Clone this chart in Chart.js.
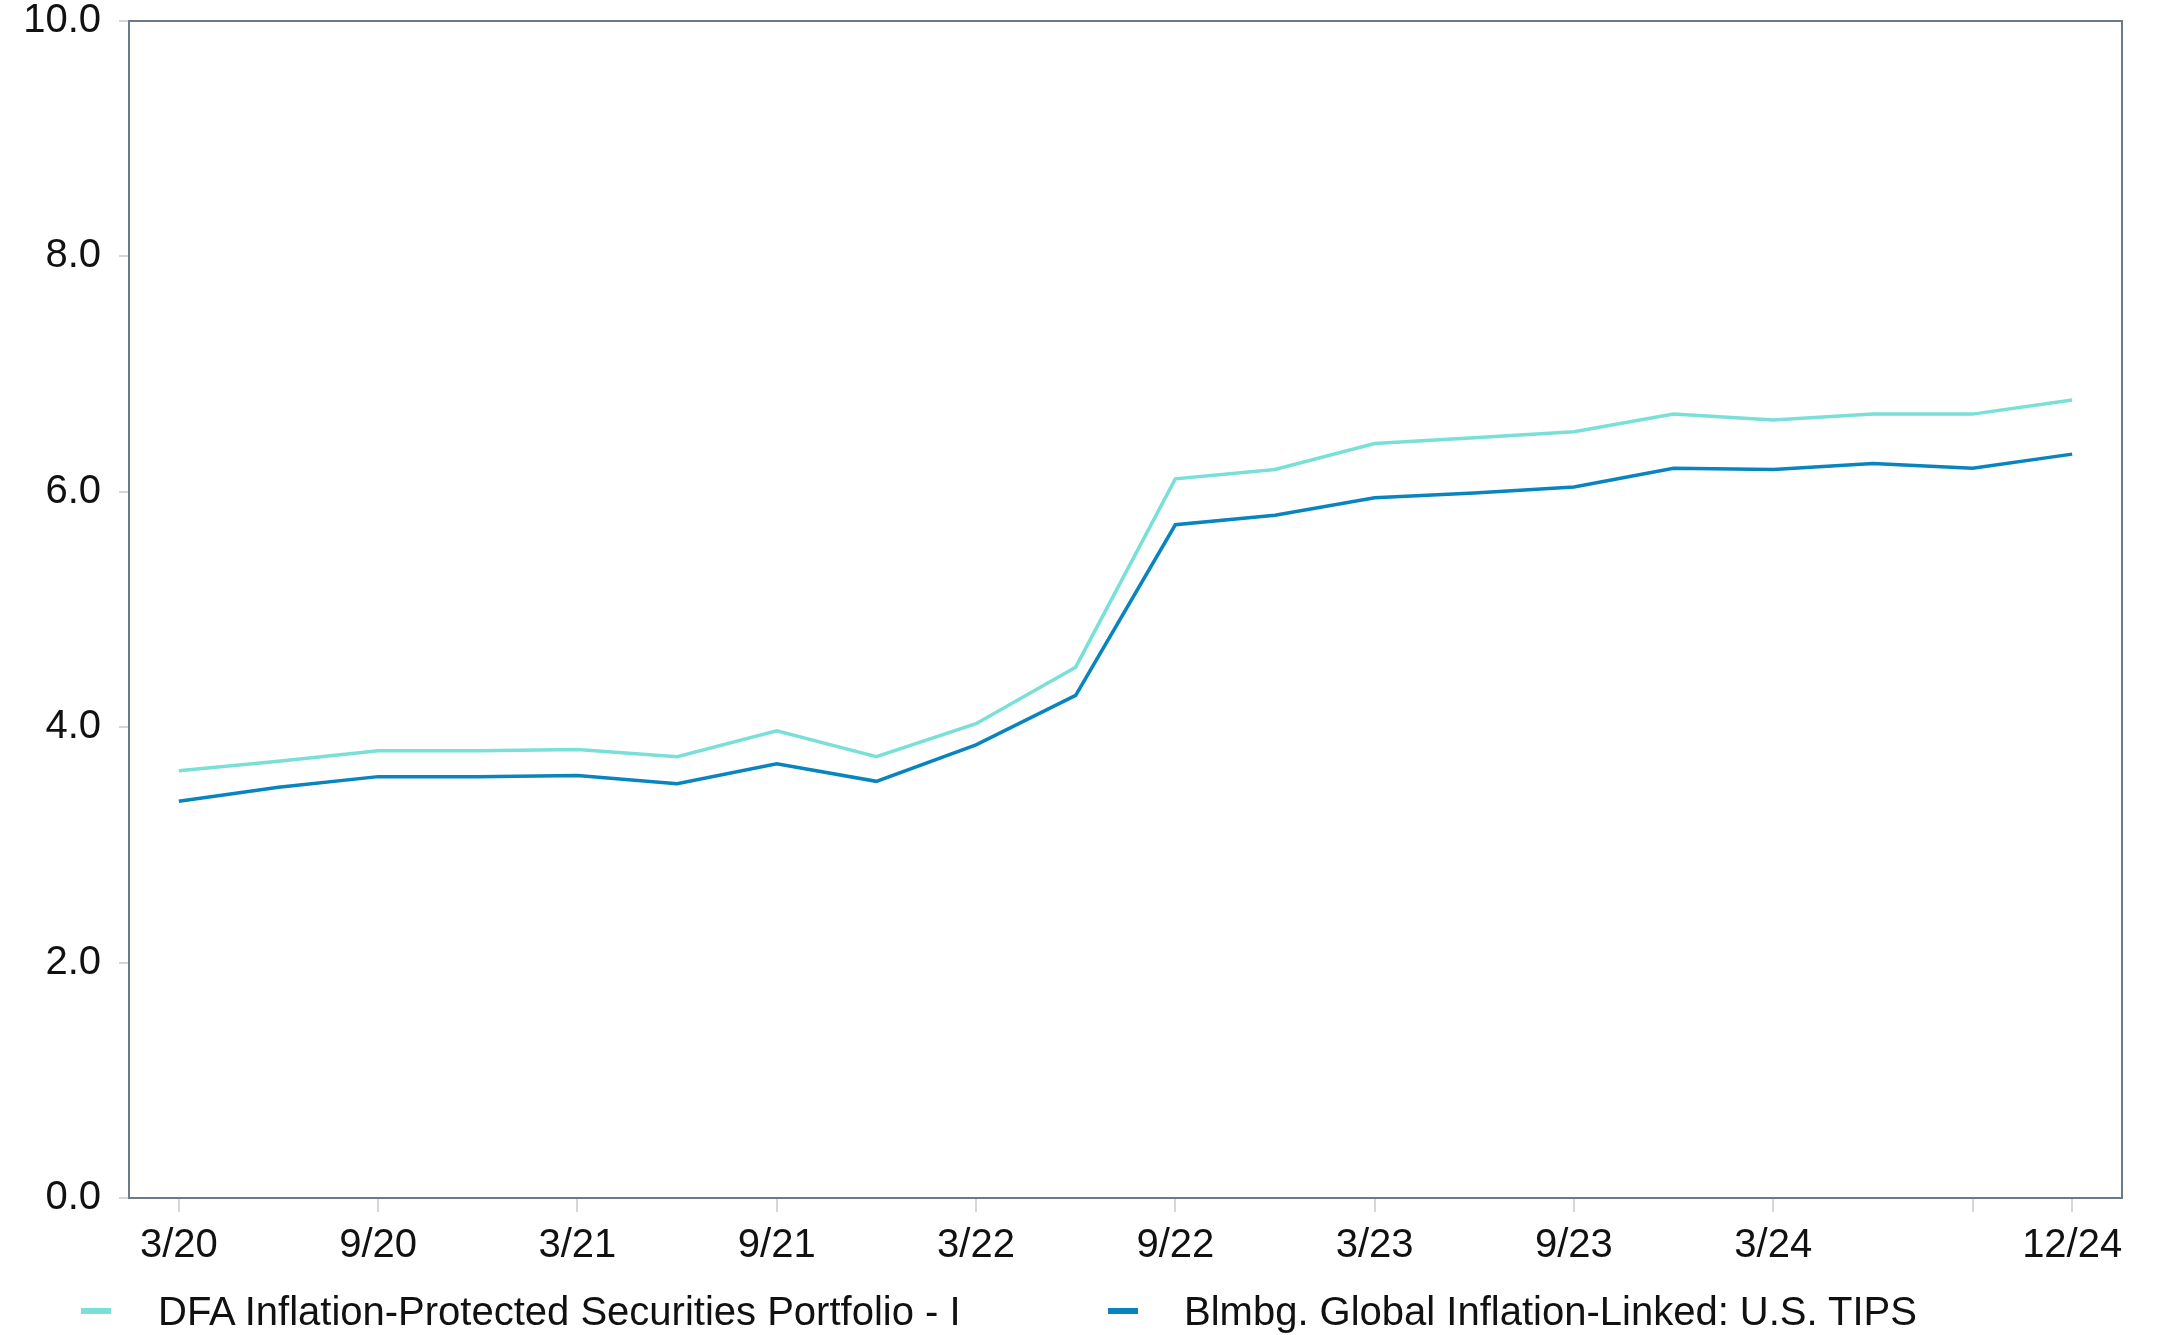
<!DOCTYPE html>
<html>
<head>
<meta charset="utf-8">
<script src="https://cdn.jsdelivr.net/npm/chart.js@4"></script>
<style>
  html, body { margin: 0; padding: 0; background: #ffffff; }
  #wrap { position: relative; width: 2179px; height: 1335px; }
  #legend { position: absolute; left: 0; top: 1287px; width: 2179px; height: 48px;
            font-family: 'Liberation Sans', Arial, Helvetica, sans-serif; font-size: 40px; color: #111; }
  .item { position: absolute; top: 0; height: 48px; line-height: 48px; white-space: nowrap; }
  .mark { position: absolute; top: 21px; width: 30px; height: 6px; }
  .txt { position: absolute; top: 0; }
</style>
</head>
<body>
<div id="wrap">
  <canvas id="c" width="2179" height="1335"></canvas>
  <div id="legend"></div>
</div>
<script>
const categories = ["3/20","6/20","9/20","12/20","3/21","6/21","9/21","12/21","3/22","6/22","9/22","12/22","3/23","6/23","9/23","12/23","3/24","6/24","9/24","12/24"];
const dfaValues = [3.63,3.71,3.80,3.80,3.81,3.75,3.97,3.75,4.03,4.51,6.11,6.19,6.41,6.46,6.51,6.66,6.61,6.66,6.66,6.78];
const tipsValues = [3.37,3.49,3.58,3.58,3.59,3.52,3.69,3.54,3.85,4.27,5.72,5.80,5.95,5.99,6.04,6.20,6.19,6.24,6.20,6.32];
const seriesNames = ["DFA Inflation-Protected Securities Portfolio - I", "Blmbg. Global Inflation-Linked: U.S. TIPS"];
const seriesColors = ["#78E0D6", "#0884BF"];
const xTickIndices = [0,2,4,6,8,10,12,14,16,18,19];
const hiddenLabelIndices = [18];
const yTicks = [0,2,4,6,8,10];

const FONT = "'Liberation Sans', Arial, Helvetica, sans-serif";

const frame = {
  id: 'frame',
  afterDraw(chart) {
    const a = chart.chartArea, ctx = chart.ctx;
    ctx.save();
    ctx.strokeStyle = '#6C7A87';
    ctx.lineWidth = 2;
    ctx.strokeRect(a.left, a.top, a.right - a.left, a.bottom - a.top);
    ctx.restore();
  }
};

new Chart(document.getElementById('c'), {
  type: 'line',
  data: {
    labels: categories,
    datasets: [
      { label: seriesNames[0], data: dfaValues, borderColor: seriesColors[0], backgroundColor: seriesColors[0],
        borderWidth: 3.5, pointRadius: 0, tension: 0, fill: false },
      { label: seriesNames[1], data: tipsValues, borderColor: seriesColors[1], backgroundColor: seriesColors[1],
        borderWidth: 3.5, pointRadius: 0, tension: 0, fill: false }
    ]
  },
  options: {
    responsive: false,
    animation: false,
    layout: { padding: { top: 0, right: 57, bottom: 0, left: 0 } },
    plugins: { legend: { display: false }, tooltip: { enabled: false } },
    scales: {
      x: {
        type: 'category',
        offset: true,
        grid: { display: true, drawOnChartArea: false, drawTicks: true, tickLength: 14, color: '#D6D6D6', lineWidth: 2, offset: false },
        border: { display: false },
        afterBuildTicks(scale) { scale.ticks = xTickIndices.map(v => ({ value: v })); },
        afterFit(scale) { scale.height = 137; },
        ticks: {
          autoSkip: false, maxRotation: 0, padding: 10, color: '#111',
          font: { family: FONT, size: 40 },
          callback(value) { return hiddenLabelIndices.includes(value) ? '' : categories[value]; }
        }
      },
      y: {
        min: 0, max: 10,
        grid: { display: true, drawOnChartArea: false, drawTicks: true, tickLength: 10, color: '#D6D6D6', lineWidth: 2 },
        border: { display: false },
        afterBuildTicks(scale) { scale.ticks = yTicks.map(v => ({ value: v })); },
        afterFit(scale) { scale.width = 129; scale.paddingTop = 21; scale.paddingBottom = 0; },
        ticks: {
          padding: 18, color: '#111',
          font: { family: FONT, size: 40 },
          callback(value) { return Number(value).toFixed(1); }
        }
      }
    }
  },
  plugins: [frame]
});

// legend
const legendPos = [{ mark: 81, text: 158 }, { mark: 1108, text: 1184 }];
const lg = document.getElementById('legend');
seriesNames.forEach((name, i) => {
  const m = document.createElement('div');
  m.className = 'mark';
  m.style.left = legendPos[i].mark + 'px';
  m.style.background = seriesColors[i];
  const t = document.createElement('div');
  t.className = 'item txt';
  t.style.left = legendPos[i].text + 'px';
  t.textContent = name;
  lg.appendChild(m);
  lg.appendChild(t);
});
</script>
</body>
</html>
